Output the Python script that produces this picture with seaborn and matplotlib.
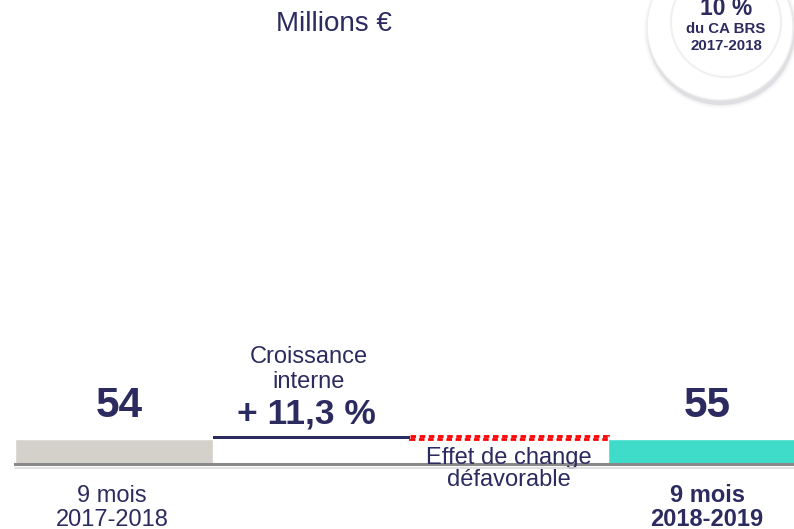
import numpy as np
import pandas as pd
import matplotlib
matplotlib.use("Agg")
import matplotlib.pyplot as plt
import seaborn as sns
from matplotlib.patches import Circle

# data
steps = ["9 mois 2017-2018", "Croissance interne", "Effet de change", "9 mois 2018-2019"]
totals = [54, 0, 0, 55]
deltas = [0, 6.1, -5.1, 0]
value_labels = ["54", "+ 11,3 %", "", "55"]
top_labels = [[], ["Croissance", "interne"], [], []]
bottom_labels = [["9 mois", "2017-2018"], [], ["Effet de change", "défavorable"], ["9 mois", "2018-2019"]]
bottom_bold = [False, False, False, True]

NAVY = "#2c2b60"
bar_colors = ["#d4d1cb", "#ffffff", "#ffffff", "#3fdcc9"]

sns.set_theme(style="white")
plt.rcParams["font.family"] = ["Liberation Sans", "DejaVu Sans"]

fig = plt.figure(figsize=(7.94, 5.29), dpi=100)
W, H = 794, 529
ax = fig.add_axes([15 / W, 65 / H, (W - 15) / W, 464 / H])

df = pd.DataFrame({"step": steps, "value": totals})
sns.barplot(data=df, x="step", y="value", hue="step", palette=bar_colors,
            order=steps, width=1.0, saturation=1, legend=False, ax=ax)

# running levels for the waterfall steps
level = np.cumsum([totals[0]] + deltas[1:3])
ax.bar(1, deltas[1], bottom=level[0], width=1.0, color=NAVY, lw=0)
ax.bar(2, deltas[2], bottom=level[1], width=1.0, fill=False,
       edgecolor="#ff0000", lw=2, linestyle=(0, (2, 1.3)))

ax.set_xlim(-0.5, 3.44)
ax.set_ylim(0, 1002)
ax.set_xticks([])
ax.set_yticks([])
ax.set_xlabel("")
ax.set_ylabel("")
for s in ["top", "left", "right"]:
    ax.spines[s].set_visible(False)
ax.spines["bottom"].set_color("#8a8a8a")
ax.spines["bottom"].set_linewidth(2.2)

tops = [totals[0], level[1], level[1], totals[3]]
label_dx = [5, -5, 0, 0]
for i, lab in enumerate(value_labels):
    if not lab:
        continue
    off = 22 if i != 1 else 13
    fs = 30.5 if i != 1 else 25.5
    ax.annotate(lab, (i, tops[i]), xytext=(label_dx[i], off),
                textcoords="offset pixels", ha="center", va="baseline",
                fontsize=fs, fontweight="bold", color=NAVY)

for i, lines in enumerate(top_labels):
    for k, t in enumerate(lines):
        ax.annotate(t, (i, tops[i]), xytext=(-3, 73 - 25 * k),
                    textcoords="offset pixels", ha="center", va="baseline",
                    fontsize=17, color=NAVY)

for i, lines in enumerate(bottom_labels):
    for k, t in enumerate(lines):
        y0 = -38 - 24 * k if i != 2 else 0 - 22 * k
        ax.annotate(t, (i, 0), xytext=(-2 if i == 0 else 0, y0),
                    textcoords="offset pixels",
                    ha="center", va="baseline", fontsize=17, color=NAVY,
                    fontweight="bold" if bottom_bold[i] else "normal",
                    annotation_clip=False, zorder=5)

# title
fig.text(334 / W, 1 - 31 / H, "Millions €", ha="center", va="baseline",
         fontsize=20, color=NAVY)

# overlay in pixel coordinates: axis shadow and badge
ov = fig.add_axes([0, 0, 1, 1], facecolor="none")
ov.set_xlim(0, W)
ov.set_ylim(H, 0)
ov.axis("off")
ov.plot([15, W], [467.5, 467.5], color="#dcdcdc", lw=1.2, zorder=0)
for r, a in [(77, 0.05), (75, 0.08), (74, 0.12)]:
    ov.add_patch(Circle((721, 31), r, color="#7a7a8a", alpha=a, lw=0))
ov.add_patch(Circle((720, 27), 73, facecolor="white", edgecolor="#eeeeee", lw=1))
ov.add_patch(Circle((726, 22), 55, facecolor="white", edgecolor="#f0f0f0", lw=1.5))
ov.text(726, 15, "10 %", ha="center", va="baseline", fontsize=16.5,
        fontweight="bold", color=NAVY)
ov.text(726, 33, "du CA BRS", ha="center", va="baseline", fontsize=10.8,
        fontweight="bold", color=NAVY)
ov.text(726, 50, "2017-2018", ha="center", va="baseline", fontsize=10.8,
        fontweight="bold", color=NAVY)

fig.savefig("out.png", dpi=100)
